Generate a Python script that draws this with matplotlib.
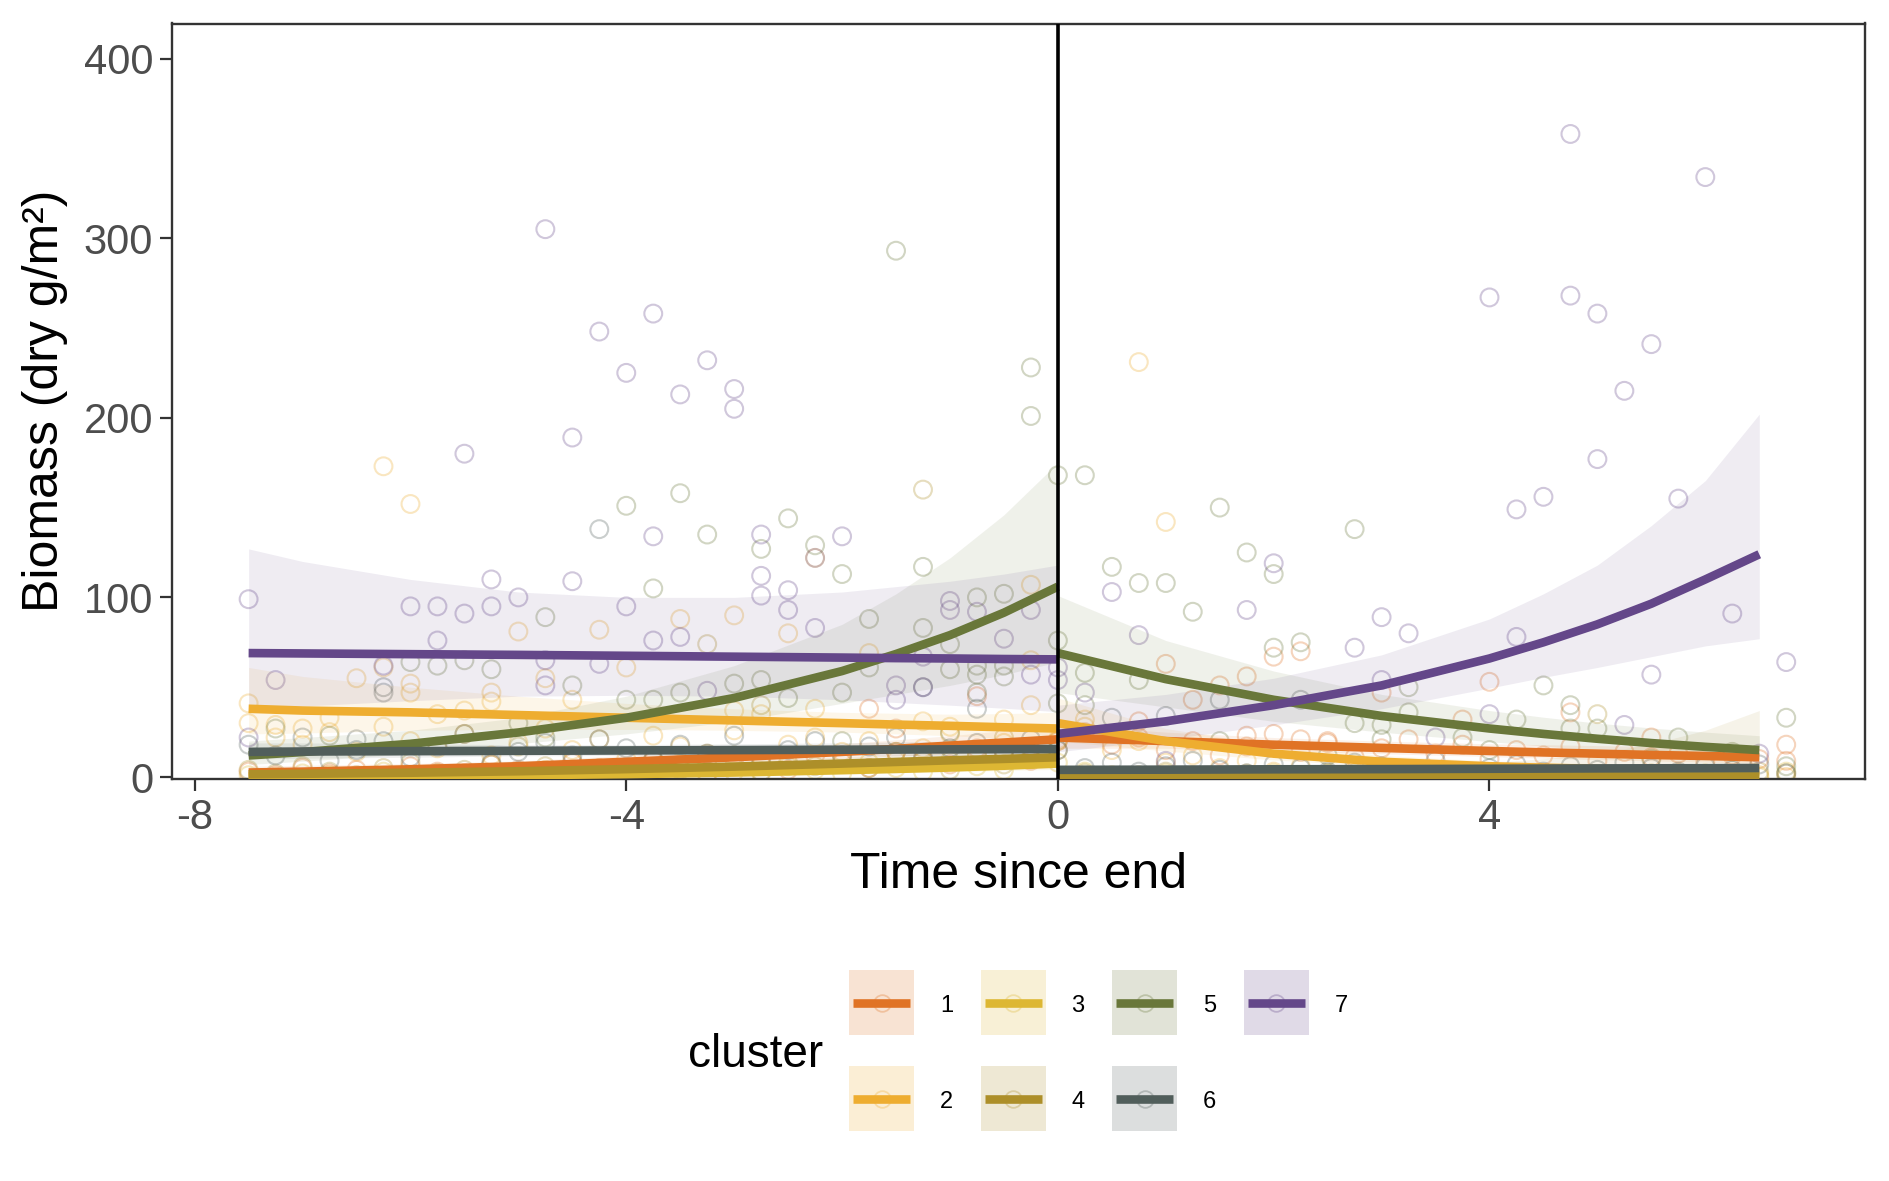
import numpy as np
import matplotlib
matplotlib.use("Agg")
import matplotlib.pyplot as plt
from matplotlib.patches import Rectangle

plt.rcParams['font.family'] = ['Liberation Sans', 'DejaVu Sans']

W, H = 1889, 1181

clusters = ['1', '2', '3', '4', '5', '6', '7']
colors = ['#E07325', '#EEAD30', '#DDB733', '#AD8F29', '#69773A', '#515E5B', '#644789']

# fitted curves, before and after the end
grid_pre = [-7.5, -7, -6, -5, -4, -3, -2, -1.5, -1, -0.5, 0]
grid_post = [0, 1, 2, 3, 4, 4.5, 5, 5.5, 6, 6.5]

fit_pre = [
    [2.5, 3, 4.3, 6, 8.5, 11, 14, 15.7, 17.5, 19.2, 21],
    [38, 37, 36, 34.5, 33, 31.5, 30, 29.2, 28.5, 27.7, 27],
    [0.3, 0.4, 0.6, 1, 1.6, 2.5, 3.8, 4.5, 5.3, 6.3, 7.5],
    [1.5, 1.8, 2.4, 3.2, 4.4, 5.8, 7.5, 8.4, 9.3, 10.1, 11],
    [12, 13.9, 18.5, 24.8, 33, 44, 59, 68.5, 79, 91.5, 106],
    [14, 14.2, 14.4, 14.6, 14.8, 15, 15.2, 15.3, 15.4, 15.5, 15.6],
    [69, 68.8, 68.4, 68, 67.5, 67, 66.5, 66.2, 66, 65.7, 65.5],
]
hi_pre = [
    [6, 6.5, 7.5, 9, 12, 15, 18.5, 20.7, 23, 25.8, 29],
    [61, 56, 50, 45, 41, 38, 36, 35.5, 35, 35.3, 36],
    [2, 2.2, 2.6, 3.2, 4, 5.2, 7, 8.2, 9.5, 11.1, 13],
    [5, 5.3, 6, 7, 8, 9.5, 11, 12.2, 13.5, 15.1, 17],
    [20, 22, 26, 33, 45, 62, 85, 102, 122, 146, 175],
    [19, 19, 18.5, 18, 18, 18.5, 19, 19.5, 20, 20.5, 21],
    [127, 120, 110, 103, 100, 100, 103, 106, 109, 113, 118],
]
lo_pre = [
    [1, 1.3, 2.4, 4, 6, 8, 10.5, 11.7, 13, 14, 15],
    [24, 24.5, 26, 26.5, 26.5, 26, 25, 24, 23, 21.6, 20],
    [0.05, 0.07, 0.14, 0.3, 0.6, 1.2, 2, 2.5, 3, 3.6, 4.3],
    [0.4, 0.6, 1, 1.5, 2.4, 3.5, 5, 5.7, 6.4, 6.7, 7],
    [7, 8.8, 13, 18.6, 24, 31, 41, 46, 51, 57, 64],
    [10, 10.5, 11, 11.8, 12, 12.2, 12, 11.9, 11.8, 11.7, 11.5],
    [37.5, 39.5, 42.5, 45, 45.5, 45, 43, 41.5, 40, 38.3, 36.4],
]
fit_post = [
    [22, 20, 18, 16.2, 14.5, 13.7, 13, 12.3, 11.7, 11],
    [30, 20, 13, 8.5, 6, 5.2, 4.5, 4, 3.5, 3],
    [1.5, 1.3, 1.2, 1.1, 1.0, 0.95, 0.9, 0.87, 0.85, 0.8],
    [1.0, 0.8, 0.6, 0.5, 0.4, 0.37, 0.35, 0.32, 0.3, 0.3],
    [69, 54.5, 43, 34, 27, 24, 21.3, 18.9, 16.8, 15],
    [4, 4.1, 4.3, 4.4, 4.6, 4.7, 4.8, 4.85, 4.9, 5],
    [24, 31, 40, 51, 66, 75, 85, 96.5, 110, 124],
]
hi_post = [
    [29, 25, 22, 20, 18.5, 18, 17.5, 17, 16.5, 16],
    [44, 27, 17.5, 12, 9, 8.2, 7.5, 7, 6.5, 6.5],
    [4, 3, 2.6, 2.5, 2.6, 2.7, 2.9, 3.1, 3.3, 3.6],
    [4, 3, 3.5, 5, 8, 10.2, 13, 18.5, 26, 37],
    [101, 76, 59, 46, 37, 33.3, 30, 27.3, 25, 23],
    [6.5, 6, 5.8, 6, 6.3, 6.5, 6.8, 7.1, 7.4, 7.8],
    [40, 46, 55, 68, 88, 102, 118, 140, 165, 202],
]
lo_post = [
    [16, 16, 14.7, 13, 11.4, 10.5, 9.7, 9, 8.3, 7.6],
    [20, 14.5, 9.5, 6, 4, 3.3, 2.7, 2.3, 1.9, 1.4],
    [0.5, 0.5, 0.5, 0.5, 0.4, 0.35, 0.3, 0.25, 0.2, 0.2],
    [0.2, 0.15, 0.1, 0.05, 0.02, 0.015, 0.01, 0.005, 0, 0],
    [47, 39, 31, 25, 19.7, 17.2, 15, 13, 11.3, 9.8],
    [2.4, 2.8, 3.1, 3.2, 3.3, 3.3, 3.3, 3.25, 3.2, 3.2],
    [14, 21, 29, 38, 49.5, 55.5, 61, 67, 73, 77],
]

# raw observations, quarterly sampling
time_pre = np.arange(-7.5, 0.01, 0.25)
time_post = np.arange(0.25, 6.76, 0.25)

low_pre_1 = [3, 1, 5, 2, 4, 0, 6, 3, 2, 7, 4, 1, 8, 5, 3, 9, 6, 2, 10, 7, 4, 12, 8, 5, 14, 10, 7, 16, 12, 9, 20]
low_post_1 = [25, 18, 22, 15, 20, 12, 17, 24, 14, 19, 11, 16, 21, 13, 18, 10, 15, 12, 17, 9, 14, 11, 13, 8, 12, 10, 9]
low_pre_2 = [30, 22, 18, 25, 14, 28, 20, 16, 24, 12, 19, 27, 15, 21, 10, 23, 17, 13, 26, 11, 18, 22, 14, 20, 9, 16, 24, 12, 19, 15, 21]
low_post_2 = [28, 15, 20, 8, 12, 5, 9, 3, 6, 2, 4, 1, 3, 0, 2, 1, 0, 2, 1, 0, 1, 0, 2, 1, 0, 1, 0]
low_pre_3 = [1, 0, 2, 1, 0, 3, 1, 2, 0, 1, 2, 4, 1, 0, 3, 2, 5, 1, 3, 2, 6, 4, 2, 8, 5, 3, 9, 6, 4, 10, 8]
low_post_3 = [3, 1, 0, 2, 1, 0, 1, 2, 0, 1, 0, 2, 1, 0, 1, 0, 2, 1, 0, 1, 0, 1, 0, 2, 1, 0, 3]
low_pre_4 = [4, 2, 6, 3, 1, 5, 8, 2, 4, 7, 3, 6, 9, 2, 5, 10, 4, 7, 12, 3, 8, 6, 11, 5, 14, 9, 4, 13, 7, 10, 15]
low_post_4 = [2, 0, 1, 3, 0, 1, 2, 0, 1, 0, 2, 1, 0, 3, 1, 0, 2, 1, 0, 1, 0, 2, 1, 0, 1, 3, 2]
low_pre_6 = [18, 12, 22, 9, 15, 20, 11, 17, 24, 8, 14, 19, 12, 21, 16, 10, 18, 13, 23, 9, 15, 20, 12, 17, 22, 11, 16, 19, 14, 21, 15]
low_post_6 = [5, 8, 3, 6, 9, 4, 2, 7, 5, 3, 8, 6, 4, 9, 2, 5, 7, 3, 6, 4, 8, 5, 3, 6, 4, 7, 2]

pts_1 = [(-1.75, 38), (1.0, 63), (2.0, 67), (2.25, 70), (1.75, 56), (1.5, 51), (1.25, 43), (4.0, 53),
         (3.0, 47), (2.25, 21), (2.5, 20), (1.75, 23), (0.75, 31), (6.75, 18), (4.75, 36), (5.5, 22),
         (3.75, 32), (-0.75, 45), (-1.5, 27)]
pts_2 = [(-6.25, 173), (-6.0, 152), (0.75, 231), (1.0, 142), (-0.25, 107), (-7.5, 41), (-6.5, 55),
         (-6.25, 61), (-6.0, 52), (-6.0, 47), (-5.0, 81), (-4.25, 82), (-4.0, 61), (-4.75, 55),
         (-5.25, 47), (-5.25, 42), (-6.75, 33), (-7.25, 29), (-7.0, 27), (-5.75, 35), (-5.5, 37),
         (-4.5, 43), (-3.5, 88), (-3.0, 90), (-2.5, 80), (-1.75, 69), (-0.25, 40), (-3.0, 37),
         (-2.75, 35), (-2.25, 38), (-1.25, 31), (-0.5, 32), (0.25, 32), (-2.25, 122), (-0.25, 65),
         (-1.0, 28)]
pts_3 = [(0.0, 20), (-0.5, 15)]
pts_4 = [(-1.25, 160), (-3.25, 74), (5.0, 35), (-2.75, 40), (-5.0, 17), (-0.5, 22)]
pts_5 = [(-1.5, 293), (-0.25, 228), (-0.25, 201), (0, 168), (0.25, 168), (-3.5, 158), (-4.0, 151),
         (-3.25, 135), (-2.5, 144), (-2.75, 127), (-2.25, 129), (-2.0, 113), (-1.25, 117), (-3.75, 105),
         (-4.75, 89), (-6.0, 64), (-5.75, 62), (-5.5, 65), (-5.25, 60), (-4.5, 51), (-4.0, 43),
         (-3.75, 43), (-4.75, 22), (-6.75, 23), (-1.75, 88), (-1.25, 83), (-0.75, 100), (-0.5, 102),
         (-1.0, 74), (-0.75, 62), (-0.75, 57), (-0.75, 47), (-0.5, 62), (-0.5, 56), (0, 76), (0, 41),
         (-1.0, 60), (-3.0, 52), (-2.75, 54), (-2.5, 44), (-2.0, 47), (-3.5, 47), (-1.75, 61),
         (-7.25, 27), (-5.0, 30), (-2.0, 20), (-1.0, 25),
         (1.5, 150), (2.75, 138), (1.75, 125), (2.0, 113), (0.5, 117), (0.75, 108), (1.0, 108),
         (1.25, 92), (0.25, 58), (0.75, 54), (2.0, 72), (2.25, 75), (3.25, 50), (3.25, 36), (2.75, 30),
         (3.0, 29), (3.0, 21), (3.75, 22), (4.5, 51), (4.75, 40), (4.25, 32), (4.75, 27), (5.0, 27),
         (5.75, 22), (6.75, 33), (6.75, 6), (0.25, 40), (1.5, 20), (2.5, 12), (4.0, 15), (5.5, 10),
         (6.25, 14)]
pts_6 = [(-4.25, 138), (-6.25, 47), (-6.25, 50), (-6.5, 21), (2.25, 43), (1.5, 43), (1.0, 34),
         (0.5, 33), (-1.25, 50), (-0.75, 38)]
pts_7 = [(-7.5, 99), (-4.75, 305), (-4.25, 248), (-3.75, 258), (-4.0, 225), (-3.25, 232), (-3.5, 213),
         (-3.0, 216), (-3.0, 205), (-4.5, 189), (-5.5, 180), (-3.75, 134), (-2.75, 135), (-4.5, 109),
         (-5.25, 110), (-5.0, 100), (-6.0, 95), (-5.75, 95), (-5.5, 91), (-5.25, 95), (-4.0, 95),
         (-2.75, 112), (-2.75, 101), (-2.5, 104), (-2.5, 93), (-2.25, 83), (-5.75, 76), (-3.75, 76),
         (-3.5, 78), (-7.25, 54), (-6.25, 62), (-4.75, 65), (-4.75, 51), (-4.25, 63), (-2.0, 134),
         (-2.25, 122), (-1.0, 98), (-1.0, 93), (-0.75, 92), (-0.5, 77), (-0.25, 93), (-0.25, 57),
         (-1.5, 51), (-1.5, 43), (-1.25, 50), (-1.25, 67), (0.0, 61), (0.0, 54), (-3.25, 48), (-7.5, 22),
         (4.0, 267), (4.75, 358), (4.75, 268), (5.0, 258), (5.5, 241), (5.25, 215), (5.0, 177),
         (6.0, 334), (4.5, 156), (4.25, 149), (5.75, 155), (6.25, 91), (6.75, 64), (4.25, 78), (5.5, 57),
         (3.0, 89), (3.25, 80), (0.5, 103), (0.75, 79), (1.75, 93), (2.0, 119), (2.75, 72), (0.25, 47),
         (1.0, 9), (3.0, 54), (4.0, 35), (3.5, 22), (5.25, 29), (6.5, 13)]

points = [pts_1, pts_2, pts_3, pts_4, pts_5, pts_6, pts_7]
low_pre = [low_pre_1, low_pre_2, low_pre_3, low_pre_4, None, low_pre_6, None]
low_post = [low_post_1, low_post_2, low_post_3, low_post_4, None, low_post_6, None]

fig = plt.figure(figsize=(W / 100, H / 100), dpi=100)
ax = fig.add_axes([172 / W, 1 - 779 / H, (1865 - 172) / W, (779 - 23.5) / H])

# points
for i, col in enumerate(colors):
    xs = [p[0] for p in points[i]]
    ys = [p[1] for p in points[i]]
    if low_pre[i] is not None:
        xs += list(time_pre) + list(time_post)
        ys += low_pre[i] + low_post[i]
    ax.scatter(xs, ys, s=165, facecolors='none', edgecolors=col,
               linewidths=1.5, alpha=0.3, zorder=1)

# confidence ribbons, then fitted lines
for i, col in enumerate(colors):
    ax.fill_between(grid_pre, lo_pre[i], hi_pre[i], color=col, alpha=0.1, lw=0, zorder=2)
    ax.fill_between(grid_post, lo_post[i], hi_post[i], color=col, alpha=0.1, lw=0, zorder=2)
for i, col in enumerate(colors):
    ax.plot(grid_pre, fit_pre[i], color=col, lw=6.2, solid_capstyle='butt', zorder=3)
    ax.plot(grid_post, fit_post[i], color=col, lw=6.2, solid_capstyle='butt', zorder=3)

ax.axvline(0, color='black', lw=2.6, zorder=5)

ax.set_xlim(-8.21, 7.48)
ax.set_ylim(-1.1, 419.5)
ax.set_xticks([-8, -4, 0, 4])
ax.set_xticklabels(['-8', '-4', '0', '4'])
ax.set_yticks([0, 100, 200, 300, 400])
for s in ax.spines.values():
    s.set_color('#333333')
    s.set_linewidth(1.7)
ax.tick_params(axis='both', length=8.6, width=1.6, color='#333333',
               labelsize=30, labelcolor='#4D4D4D', pad=5)

fig.text(45 / W, 1 - 401 / H, 'Biomass (dry g/m²)', rotation=90, fontsize=36,
         ha='center', va='center')
fig.text(1019 / W, 1 - 875 / H, 'Time since end', fontsize=36, ha='center', va='center')

# legend, drawn by hand in pixel coordinates
lax = fig.add_axes([0, 0, 1, 1])
lax.set_xlim(0, W)
lax.set_ylim(H, 0)
lax.axis('off')
lax.text(688, 1055, 'cluster', fontsize=33, ha='left', va='center')
for i, (lab, col) in enumerate(zip(clusters, colors)):
    x0 = 849 + 131.5 * (i // 2)
    y0 = 970 + 96 * (i % 2)
    lax.add_patch(Rectangle((x0, y0), 65, 65, facecolor=col, alpha=0.2, lw=0))
    lax.plot([x0 + 32.5], [y0 + 32.5], 'o', ms=12, mfc='none', mec=col, mew=1.3, alpha=0.3)
    lax.plot([x0 + 4, x0 + 61], [y0 + 32.5, y0 + 32.5], color=col, lw=6.2, solid_capstyle='butt')
    lax.text(x0 + 91, y0 + 36, lab, fontsize=17, ha='left', va='center')

fig.savefig('out.png', dpi=100)
